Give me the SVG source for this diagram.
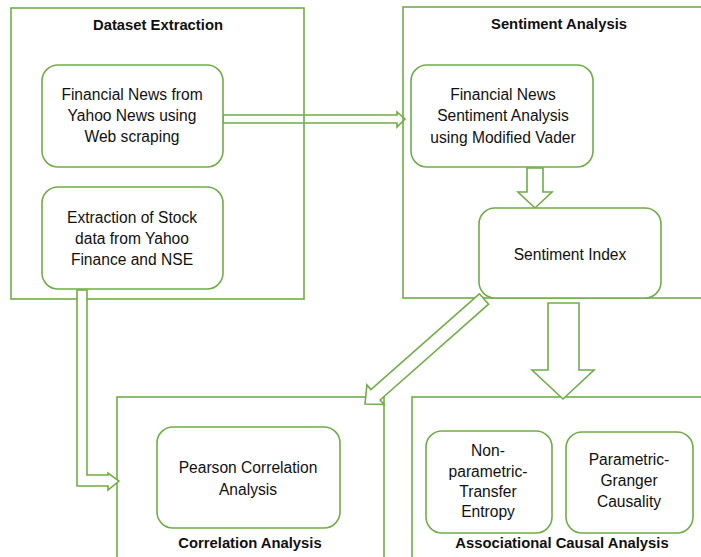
<svg xmlns="http://www.w3.org/2000/svg" width="701" height="557" viewBox="0 0 701 557">
<style>
.cont{fill:none;stroke:#70AD47;stroke-width:1.6}
.node{fill:#fff;stroke:#70AD47;stroke-width:1.6}
.arr{fill:#fff;stroke:#70AD47;stroke-width:1.6;stroke-linejoin:miter}
.arrn{fill:none;stroke:#70AD47;stroke-width:1.6}
.t{font-family:"Liberation Sans",Arial,sans-serif;font-size:15.6px;fill:#111;text-anchor:middle}
.h{font-family:"Liberation Sans",Arial,sans-serif;font-size:14.8px;font-weight:bold;fill:#111;text-anchor:middle}
</style>
<rect width="701" height="557" fill="#fff"/>
<g id="dataset-extraction">
<rect class="cont" x="11" y="8" width="293" height="291"/>
<text class="h" x="158" y="30">Dataset Extraction</text>
</g>
<g id="sentiment-analysis">
<rect class="cont" x="403" y="7" width="320" height="291"/>
<text class="h" x="559" y="29">Sentiment Analysis</text>
</g>
<g id="correlation-analysis">
<rect class="cont" x="117" y="397" width="267" height="200"/>
<text class="h" x="250" y="548">Correlation Analysis</text>
</g>
<g id="associational-causal-analysis">
<rect class="cont" x="412" y="397" width="320" height="200"/>
<text class="h" x="562" y="548">Associational Causal Analysis</text>
</g>
<g id="connectors">
<polygon class="arrn" points="223,115 397,115 397,112 405,119 397,127 397,123 223,123"/>
<polygon class="arr" points="527,168 543,168 543,192 552,192 535,208 518,192 527,192"/>
<polygon class="arr" points="548,303 579,303 579,370 594,370 563,399 532,370 548,370"/>
<polygon class="arr" points="479.4,293.8 370.9,389.5 366.9,385 365,404 384.1,404.5 380.1,400 488.6,304.2"/>
<polygon class="arr" points="77,290 87,290 87,475 108,475 108,473 119,481 108,490 108,486 77,486"/>
</g>
<g id="financial-news">
<rect class="node" x="42" y="65" width="181" height="102" rx="16"/>
<text class="t" x="132" y="100">Financial News from</text>
<text class="t" x="132" y="121">Yahoo News using</text>
<text class="t" x="132" y="142">Web scraping</text>
</g>
<g id="stock-extraction">
<rect class="node" x="42" y="187" width="181" height="102" rx="16"/>
<text class="t" x="132" y="223">Extraction of Stock</text>
<text class="t" x="132" y="244">data from Yahoo</text>
<text class="t" x="132" y="265">Finance and NSE</text>
</g>
<g id="news-sentiment">
<rect class="node" x="411" y="65" width="182" height="102" rx="16"/>
<text class="t" x="503" y="100">Financial News</text>
<text class="t" x="503" y="121">Sentiment Analysis</text>
<text class="t" x="503" y="143">using Modified Vader</text>
</g>
<g id="sentiment-index">
<rect class="node" x="479" y="208" width="182" height="90" rx="16"/>
<text class="t" x="570" y="260">Sentiment Index</text>
</g>
<g id="pearson">
<rect class="node" x="157" y="427" width="183" height="101" rx="16"/>
<text class="t" x="248" y="473">Pearson Correlation</text>
<text class="t" x="248" y="495">Analysis</text>
</g>
<g id="transfer-entropy">
<rect class="node" x="426" y="431" width="126" height="102" rx="16"/>
<text class="t" x="488" y="456">Non-</text>
<text class="t" x="488" y="477">parametric-</text>
<text class="t" x="488" y="497">Transfer</text>
<text class="t" x="488" y="517">Entropy</text>
</g>
<g id="granger">
<rect class="node" x="566" y="432" width="127" height="101" rx="16"/>
<text class="t" x="629" y="465">Parametric-</text>
<text class="t" x="629" y="486">Granger</text>
<text class="t" x="629" y="507">Causality</text>
</g>
</svg>
